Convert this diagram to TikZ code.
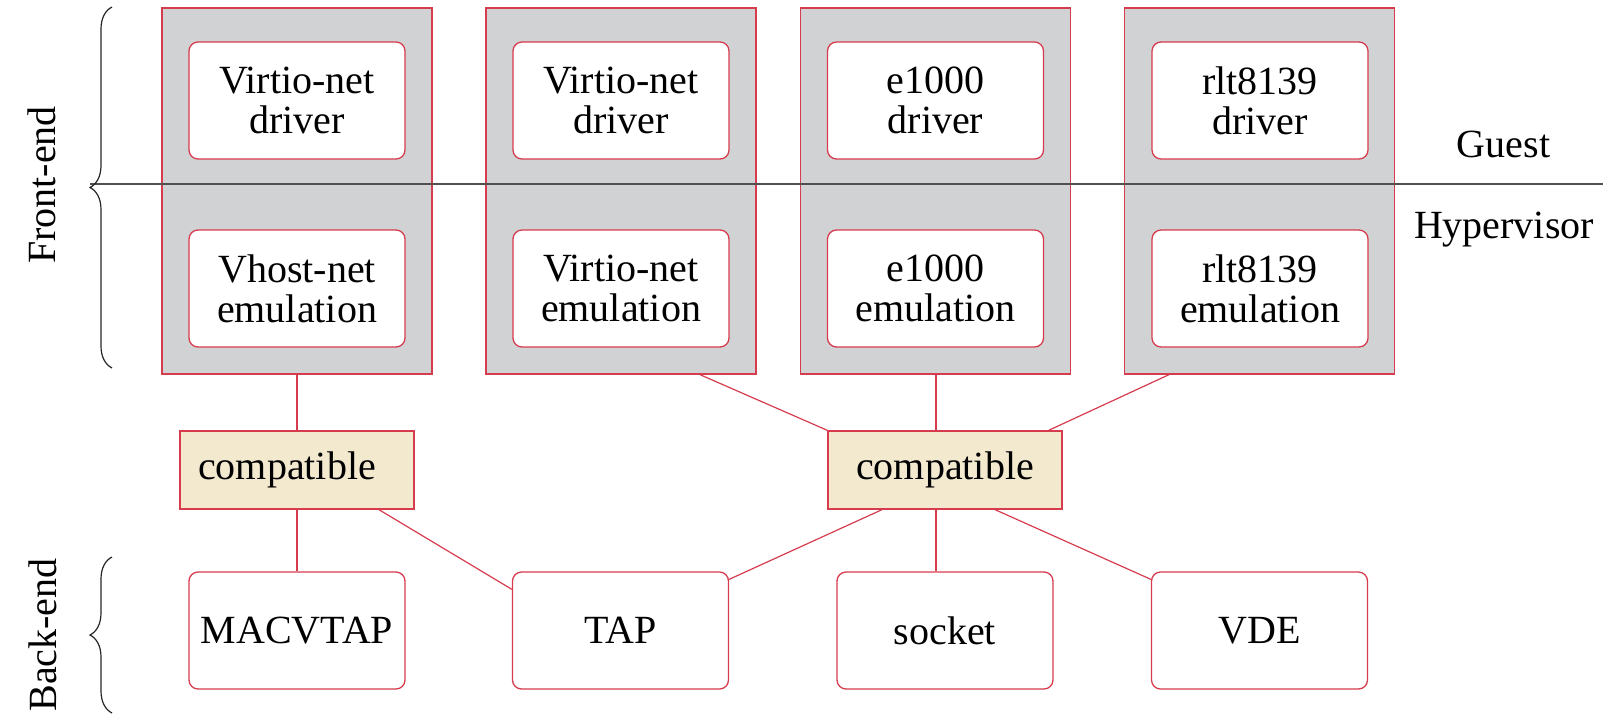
\documentclass[tikz,border=0pt]{standalone}
\usepackage{fontspec}
\setmainfont{Liberation Serif}
\usetikzlibrary{decorations.pathreplacing,calc}
\definecolor{boxred}{RGB}{214,60,78}
\definecolor{colgrey}{RGB}{209,210,212}
\definecolor{compfill}{RGB}{242,233,207}
\definecolor{sepline}{RGB}{80,80,80}
\tikzset{
  colbox/.style={draw=boxred, fill=colgrey, line width=1.3pt, minimum width=270pt, minimum height=366pt, inner sep=0pt},
  innerbox/.style={draw=boxred, fill=white, line width=1.3pt, rounded corners=9pt, minimum width=216pt, minimum height=117pt, inner sep=0pt, align=center, font=\fontsize{40}{40}\selectfont},
  compbox/.style={draw=boxred, fill=compfill, line width=1.3pt, minimum width=234pt, minimum height=78pt, inner sep=0pt, font=\fontsize{40}{40}\selectfont},
  backbox/.style={draw=boxred, fill=white, line width=1.3pt, rounded corners=9pt, minimum width=216pt, minimum height=117pt, inner sep=0pt, font=\fontsize{40}{40}\selectfont},
  conn/.style={draw=boxred, line width=1.2pt},
  lbl/.style={font=\fontsize{40}{40}\selectfont, inner sep=0pt},
  bracestyle/.style={decorate, decoration={brace, amplitude=22pt}, line width=1.2pt, draw=black!85}
}
\begin{document}
\begin{tikzpicture}[x=1pt, y=-1pt]
\useasboundingbox (0,0) rectangle (1612,726);
% column boxes
\node[colbox] (col1) at (297,191) {};
\node[colbox] (col2) at (621,191) {};
\node[colbox] (col3) at (935.5,191) {};
\node[colbox] (col4) at (1259.5,191) {};
% separator line
\coordinate (sepL) at (90,184);
\coordinate (sepR) at (1603,184);
\draw[sepline, line width=2pt] (sepL) -- (sepR);
% inner boxes
\node[innerbox] (d1) at (297,100.5) {Virtio-net\\driver};
\node[innerbox] (d2) at (621,100.5) {Virtio-net\\driver};
\node[innerbox] (d3) at (935.5,100.5) {e1000\\driver};
\node[innerbox] (d4) at (1260,100.5) {rlt8139\\driver};
\node[innerbox] (e1) at (297,288.5) {Vhost-net\\emulation};
\node[innerbox] (e2) at (621,288.5) {Virtio-net\\emulation};
\node[innerbox] (e3) at (935.5,288.5) {e1000\\emulation};
\node[innerbox] (e4) at (1260,288.5) {rlt8139\\emulation};
% compatible boxes
\node[compbox] (c1) at (297,470) {compatible\kern 20pt};
\node[compbox] (c2) at (945,470) {compatible};
% back-end boxes
\node[backbox] (mac) at (297,630.5) {MACVTAP};
\node[backbox] (tap) at (620.5,630.5) {TAP};
\node[backbox] (sock) at (945,630.5) {socket};
\node[backbox] (vde) at (1259.5,630.5) {VDE};
% connectors
\draw[conn] (col1.south) -- (c1.north);
\draw[conn] (c1.south) -- (mac.north);
\draw[conn] ($(c1.south)+(82,0)$) -- ($(tap.north west)+(0,18)$);
\draw[conn] ($(col2.south)+(79,0)$) -- (c2.north west);
\draw[conn] ($(col3.south)+(0.5,0)$) -- ($(c2.north)+(-9,0)$);
\draw[conn] ($(col4.south)+(-90.5,0)$) -- ($(c2.north east)+(-14,0)$);
\draw[conn] ($(c2.south)+(-63,0)$) -- ($(tap.north east)+(0,8)$);
\draw[conn] ($(c2.south)+(-9,0)$) -- ($(sock.north)+(-9,0)$);
\draw[conn] ($(c2.south)+(50,0)$) -- ($(vde.north west)+(0,8)$);
% labels
\node[lbl, anchor=base] (guest) at (1503.5,157) {Guest};
\node[lbl, anchor=base] (hyper) at (1504,238) {Hypervisor};
\node[lbl, anchor=base, rotate=90] (front) at (55,185) {Front-end};
\node[lbl, anchor=base, rotate=90] (back) at (56,635) {Back-end};
% braces
\coordinate (b1a) at (112,368);
\coordinate (b1b) at (112,7);
\coordinate (b2a) at (112,713);
\coordinate (b2b) at (112,557);
\draw[bracestyle] (b1a) -- (b1b);
\draw[bracestyle] (b2a) -- (b2b);
\end{tikzpicture}
\end{document}
